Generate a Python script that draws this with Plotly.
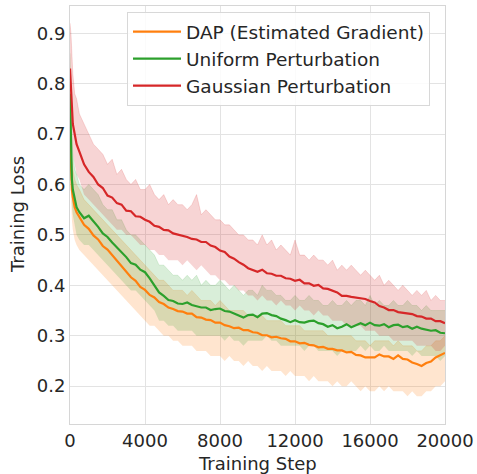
import plotly.graph_objects as go

steps = [0, 50, 100, 150, 250, 350, 500, 750] + list(range(1000, 20001, 250))
x_ticks = [0, 4000, 8000, 12000, 16000, 20000]
x_tick_labels = ["0", "4000", "8000", "12000", "16000", "20000"]
y_ticks = [0.2, 0.3, 0.4, 0.5, 0.6, 0.7, 0.8, 0.9]

dap_mean = [0.70, 0.62, 0.59, 0.575, 0.555, 0.545, 0.535, 0.52, 0.512, 0.499, 0.491, 0.478, 0.471, 0.460, 0.451, 0.438,
            0.429, 0.416, 0.409, 0.397, 0.391, 0.381, 0.376, 0.367, 0.363, 0.356, 0.353, 0.349, 0.348, 0.344, 0.344,
            0.337, 0.336, 0.332, 0.331, 0.326, 0.326, 0.321, 0.319, 0.315, 0.316, 0.311, 0.311, 0.307, 0.306, 0.301,
            0.301, 0.297, 0.298, 0.295, 0.294, 0.289, 0.289, 0.285, 0.286, 0.282, 0.281, 0.277, 0.278, 0.274, 0.274,
            0.271, 0.271, 0.267, 0.268, 0.262, 0.261, 0.257, 0.257, 0.257, 0.263, 0.259, 0.259, 0.254, 0.261, 0.254,
            0.253, 0.247, 0.244, 0.240, 0.246, 0.249, 0.257, 0.261, 0.266]
dap_hi = [0.78, 0.70, 0.66, 0.63, 0.61, 0.60, 0.59, 0.57, 0.56, 0.55, 0.54, 0.53, 0.52, 0.51, 0.50, 0.49,
          0.48, 0.47, 0.46, 0.45, 0.44, 0.43, 0.42, 0.41, 0.41, 0.40, 0.39, 0.39, 0.39, 0.38, 0.39,
          0.38, 0.37, 0.37, 0.37, 0.36, 0.37, 0.36, 0.35, 0.35, 0.35, 0.35, 0.34, 0.34, 0.34, 0.34,
          0.33, 0.33, 0.33, 0.33, 0.32, 0.32, 0.32, 0.32, 0.31, 0.31, 0.31, 0.31, 0.31, 0.30, 0.30,
          0.30, 0.30, 0.30, 0.30, 0.29, 0.29, 0.29, 0.28, 0.29, 0.29, 0.29, 0.29, 0.28, 0.29, 0.28,
          0.28, 0.28, 0.27, 0.27, 0.28, 0.28, 0.29, 0.29, 0.30]
dap_lo = [0.63, 0.56, 0.53, 0.51, 0.49, 0.48, 0.47, 0.46, 0.45, 0.44, 0.43, 0.42, 0.41, 0.40, 0.39, 0.38,
          0.37, 0.36, 0.35, 0.34, 0.33, 0.32, 0.32, 0.31, 0.30, 0.30, 0.29, 0.29, 0.28, 0.28, 0.28,
          0.27, 0.27, 0.27, 0.26, 0.26, 0.26, 0.25, 0.26, 0.25, 0.25, 0.24, 0.25, 0.24, 0.24, 0.23,
          0.24, 0.23, 0.23, 0.23, 0.22, 0.23, 0.22, 0.22, 0.22, 0.21, 0.22, 0.21, 0.21, 0.21, 0.20,
          0.21, 0.20, 0.20, 0.21, 0.20, 0.19, 0.20, 0.19, 0.19, 0.20, 0.19, 0.20, 0.19, 0.19, 0.19,
          0.18, 0.19, 0.18, 0.18, 0.19, 0.19, 0.20, 0.20, 0.21]

uni_mean = [0.78, 0.66, 0.61, 0.59, 0.57, 0.555, 0.545, 0.533, 0.538, 0.528, 0.516, 0.503, 0.496, 0.485, 0.476, 0.466,
            0.456, 0.444, 0.441, 0.431, 0.426, 0.414, 0.401, 0.386, 0.379, 0.371, 0.369, 0.364, 0.363, 0.366, 0.361,
            0.359, 0.356, 0.356, 0.351, 0.353, 0.354, 0.349, 0.348, 0.344, 0.340, 0.336, 0.341, 0.342, 0.337, 0.344,
            0.345, 0.341, 0.339, 0.334, 0.331, 0.327, 0.331, 0.327, 0.326, 0.329, 0.330, 0.325, 0.323, 0.318, 0.321,
            0.315, 0.318, 0.323, 0.317, 0.321, 0.325, 0.321, 0.326, 0.321, 0.320, 0.323, 0.317, 0.321, 0.322, 0.317,
            0.319, 0.314, 0.318, 0.314, 0.312, 0.310, 0.311, 0.306, 0.305]
uni_hi = [0.86, 0.76, 0.70, 0.66, 0.63, 0.62, 0.60, 0.59, 0.60, 0.59, 0.58, 0.56, 0.55, 0.55, 0.53, 0.53,
          0.51, 0.50, 0.50, 0.49, 0.48, 0.47, 0.46, 0.44, 0.44, 0.43, 0.42, 0.42, 0.41, 0.42, 0.41,
          0.42, 0.40, 0.41, 0.40, 0.40, 0.41, 0.40, 0.39, 0.40, 0.39, 0.38, 0.39, 0.39, 0.38, 0.40,
          0.39, 0.39, 0.38, 0.38, 0.37, 0.37, 0.38, 0.37, 0.37, 0.38, 0.37, 0.37, 0.36, 0.36, 0.37,
          0.36, 0.36, 0.37, 0.36, 0.37, 0.37, 0.36, 0.38, 0.36, 0.37, 0.36, 0.36, 0.37, 0.36, 0.36,
          0.37, 0.36, 0.36, 0.35, 0.36, 0.35, 0.35, 0.35, 0.35]
uni_lo = [0.72, 0.60, 0.56, 0.54, 0.52, 0.50, 0.49, 0.48, 0.48, 0.47, 0.46, 0.45, 0.44, 0.43, 0.42, 0.41,
          0.40, 0.39, 0.39, 0.38, 0.37, 0.36, 0.35, 0.33, 0.33, 0.32, 0.32, 0.31, 0.31, 0.31, 0.31,
          0.30, 0.30, 0.30, 0.30, 0.30, 0.30, 0.29, 0.30, 0.29, 0.29, 0.28, 0.29, 0.29, 0.29, 0.29,
          0.30, 0.29, 0.29, 0.28, 0.28, 0.28, 0.28, 0.28, 0.27, 0.28, 0.28, 0.27, 0.27, 0.27, 0.27,
          0.26, 0.27, 0.27, 0.27, 0.27, 0.28, 0.27, 0.28, 0.27, 0.27, 0.28, 0.27, 0.27, 0.27, 0.27,
          0.27, 0.26, 0.27, 0.26, 0.26, 0.26, 0.26, 0.25, 0.26]

gau_mean = [0.83, 0.79, 0.75, 0.72, 0.70, 0.68, 0.665, 0.64, 0.625, 0.615, 0.60, 0.593, 0.578, 0.574, 0.563, 0.560,
            0.548, 0.547, 0.537, 0.536, 0.530, 0.526, 0.518, 0.516, 0.510, 0.509, 0.503, 0.501, 0.498, 0.496, 0.492,
            0.491, 0.486, 0.486, 0.479, 0.476, 0.469, 0.466, 0.457, 0.453, 0.446, 0.441, 0.434, 0.431, 0.427, 0.431,
            0.424, 0.423, 0.419, 0.419, 0.414, 0.413, 0.409, 0.411, 0.404, 0.404, 0.399, 0.401, 0.394, 0.393, 0.389,
            0.386, 0.379, 0.379, 0.377, 0.376, 0.374, 0.373, 0.369, 0.366, 0.359, 0.356, 0.351, 0.351, 0.347, 0.346,
            0.344, 0.343, 0.339, 0.338, 0.334, 0.334, 0.329, 0.329, 0.325]
gau_hi = [0.92, 0.90, 0.86, 0.82, 0.78, 0.77, 0.74, 0.72, 0.70, 0.68, 0.67, 0.66, 0.64, 0.65, 0.62, 0.63,
          0.61, 0.60, 0.61, 0.59, 0.59, 0.60, 0.58, 0.57, 0.58, 0.56, 0.57, 0.56, 0.56, 0.55, 0.56,
          0.58, 0.54, 0.55, 0.54, 0.53, 0.53, 0.52, 0.52, 0.51, 0.50, 0.50, 0.49, 0.49, 0.48, 0.50,
          0.48, 0.49, 0.47, 0.48, 0.47, 0.46, 0.49, 0.46, 0.46, 0.45, 0.46, 0.45, 0.45, 0.44, 0.45,
          0.43, 0.44, 0.43, 0.44, 0.43, 0.42, 0.43, 0.42, 0.41, 0.42, 0.40, 0.41, 0.40, 0.39, 0.40,
          0.39, 0.38, 0.39, 0.38, 0.39, 0.37, 0.38, 0.37, 0.37]
gau_lo = [0.78, 0.72, 0.69, 0.66, 0.64, 0.62, 0.61, 0.58, 0.57, 0.56, 0.55, 0.54, 0.53, 0.52, 0.51, 0.51,
          0.50, 0.50, 0.49, 0.48, 0.48, 0.47, 0.47, 0.46, 0.46, 0.45, 0.45, 0.45, 0.44, 0.45, 0.44,
          0.43, 0.44, 0.43, 0.42, 0.42, 0.41, 0.41, 0.40, 0.40, 0.39, 0.39, 0.38, 0.38, 0.37, 0.38,
          0.37, 0.37, 0.36, 0.37, 0.36, 0.36, 0.35, 0.36, 0.35, 0.35, 0.34, 0.35, 0.34, 0.34, 0.33,
          0.33, 0.33, 0.32, 0.32, 0.32, 0.32, 0.31, 0.31, 0.31, 0.30, 0.30, 0.30, 0.29, 0.29, 0.29,
          0.29, 0.29, 0.28, 0.28, 0.28, 0.28, 0.27, 0.27, 0.28]

series = [
    ("DAP (Estimated Gradient)", dap_mean, dap_lo, dap_hi, "#ff7f0e", "rgba(255,127,14,0.2)"),
    ("Uniform Perturbation", uni_mean, uni_lo, uni_hi, "#2ca02c", "rgba(44,160,44,0.18)"),
    ("Gaussian Perturbation", gau_mean, gau_lo, gau_hi, "#d62728", "rgba(214,39,40,0.2)"),
]

fig = go.Figure()
for name, m, lo, hi, col, band in series:
    fig.add_trace(go.Scatter(x=steps, y=lo, mode="lines", line=dict(width=0, color=band),
                             showlegend=False, hoverinfo="skip"))
    fig.add_trace(go.Scatter(x=steps, y=hi, mode="lines", line=dict(width=0.8, color=band),
                             fill="tonexty", fillcolor=band, showlegend=False, hoverinfo="skip"))
for i, (name, m, lo, hi, col, band) in enumerate(series):
    fig.add_trace(go.Scatter(x=steps, y=m, mode="lines", name=name, legendgroup=str(i),
                             line=dict(width=2.2, color=col)))

W, H, L, R, T, B = 477, 474, 70, 32, 6, 50
pw, ph = W - L - R, H - T - B
grid = "#e3e3e3"
txt = "#262626"
fig.update_layout(
    width=W, height=H,
    margin=dict(l=L, r=R, t=T, b=B),
    paper_bgcolor="white", plot_bgcolor="white",
    font=dict(family="DejaVu Sans", size=18, color=txt),
    legend=dict(x=(127 - L) / pw, y=1 - (12 - T) / ph, xanchor="left", yanchor="top",
                bgcolor="rgba(255,255,255,0.85)", bordercolor="#d8d8d8", borderwidth=1,
                font=dict(size=18.5, color=txt), tracegroupgap=0, itemwidth=48),
    showlegend=True,
    annotations=[
        dict(text="Training Step", x=(257 - L) / pw, y=1 - (463 - T) / ph, xref="paper", yref="paper",
             showarrow=False, font=dict(size=18, color=txt), xanchor="center", yanchor="middle"),
        dict(text="Training Loss", x=(17 - L) / pw, y=1 - (215 - T) / ph, xref="paper", yref="paper",
             showarrow=False, textangle=-90, font=dict(size=18, color=txt),
             xanchor="center", yanchor="middle"),
    ],
)
fig.update_xaxes(range=[0, 20000], tickvals=x_ticks, ticktext=x_tick_labels, automargin=False,
                 showgrid=True, gridcolor=grid, gridwidth=1, zeroline=False,
                 showline=True, linecolor="#d6d6d6", linewidth=1, mirror=True,
                 ticks="", tickfont=dict(size=18, color=txt))
fig.update_yaxes(range=[0.125, 0.954], tickvals=y_ticks, tickformat=".1f", automargin=False,
                 showgrid=True, gridcolor=grid, gridwidth=1, zeroline=False,
                 showline=True, linecolor="#d6d6d6", linewidth=1, mirror=True,
                 ticks="", tickfont=dict(size=18, color=txt))

fig.write_html("out.html", config={"displayModeBar": False},
               post_script="document.body.style.margin='0';document.body.style.overflow='hidden';")
